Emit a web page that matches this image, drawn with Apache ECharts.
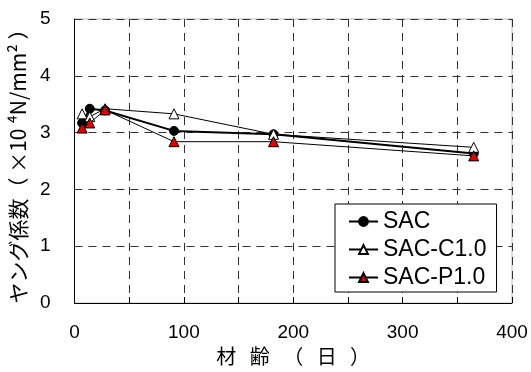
<!DOCTYPE html>
<html><head><meta charset="utf-8">
<script src="https://cdn.jsdelivr.net/npm/echarts@6/dist/echarts.min.js"></script>
<style>html,body{margin:0;padding:0;background:#fff}#c{width:531px;height:372px}</style>
</head><body><div id="c"></div>
<script>
const ages = [7, 14, 28, 91, 182, 365];
const sac = [3.17, 3.42, 3.39, 3.03, 2.97, 2.63];
const sacC10 = [3.33, 3.28, 3.42, 3.33, 2.97, 2.74];
const sacP10 = [3.08, 3.17, 3.40, 2.84, 2.84, 2.59];
const seriesNames = ['SAC', 'SAC-C1.0', 'SAC-P1.0'];
const xTitle = '材   齢   （   日   ）';
const yTitle = 'ヤング係数（ ×10 ⁴N/mm² ）';

const pair = (xs, ys) => xs.map((x, i) => [x, ys[i]]);
const latin = 'Liberation Sans, Noto Sans CJK JP, sans-serif';
const cjk = 'Noto Sans CJK JP, sans-serif';

const chart = echarts.init(document.getElementById('c'), null, {renderer: 'canvas'});
chart.setOption({
  animation: false,
  backgroundColor: '#fff',
  grid: {left: 74, right: 19, top: 19, bottom: 69, show: true, borderColor: '#bbb', borderWidth: 1},
  xAxis: {
    type: 'value', min: 0, max: 400, interval: 50,
    name: xTitle, nameLocation: 'middle', nameGap: 42,
    nameTextStyle: {fontFamily: cjk, fontSize: 20, color: '#000'},
    axisLine: {show: true, lineStyle: {color: '#000', width: 1}},
    axisTick: {show: true, inside: true, length: 6, lineStyle: {color: '#000'}},
    axisLabel: {margin: 20, fontFamily: latin, fontSize: 19, color: '#000',
      formatter: v => (v % 100 === 0 ? String(v) : '')},
    splitLine: {show: true, lineStyle: {color: '#333', type: [8, 6], width: 1}}
  },
  yAxis: {
    type: 'value', min: 0, max: 5, interval: 1,
    name: yTitle, nameLocation: 'middle', nameGap: 40, nameRotate: 90,
    nameTextStyle: {fontFamily: cjk, fontSize: 21, color: '#000'},
    axisLine: {show: true, lineStyle: {color: '#000', width: 1}},
    axisTick: {show: false},
    axisLabel: {margin: 24, fontFamily: latin, fontSize: 19, color: '#000'},
    splitLine: {show: true, lineStyle: {color: '#333', type: [8, 6], width: 1}}
  },
  legend: {
    orient: 'vertical', left: 335, top: 204,
    data: seriesNames,
    backgroundColor: '#fff', borderColor: '#000', borderWidth: 1,
    padding: [6, 10, 3, 13], itemGap: 5, itemWidth: 29, itemHeight: 11, itemTextGap: 6,
    textStyle: {fontFamily: latin, fontSize: 23, color: '#000'}
  },
  series: [
    {name: seriesNames[0], type: 'line', data: pair(ages, sac), symbol: 'circle', symbolSize: 9,
      lineStyle: {color: '#000', width: 2}, itemStyle: {color: '#000', borderColor: '#000', borderWidth: 1}, z: 2},
    {name: seriesNames[1], type: 'line', data: pair(ages, sacC10), symbol: 'triangle', symbolSize: 10,
      lineStyle: {color: '#000', width: 1}, itemStyle: {color: '#fff', borderColor: '#000', borderWidth: 1}, z: 3},
    {name: seriesNames[2], type: 'line', data: pair(ages, sacP10), symbol: 'triangle', symbolSize: 10,
      lineStyle: {color: '#000', width: 1}, itemStyle: {color: '#e00000', borderColor: '#000', borderWidth: 1}, z: 4}
  ]
});
</script></body></html>
